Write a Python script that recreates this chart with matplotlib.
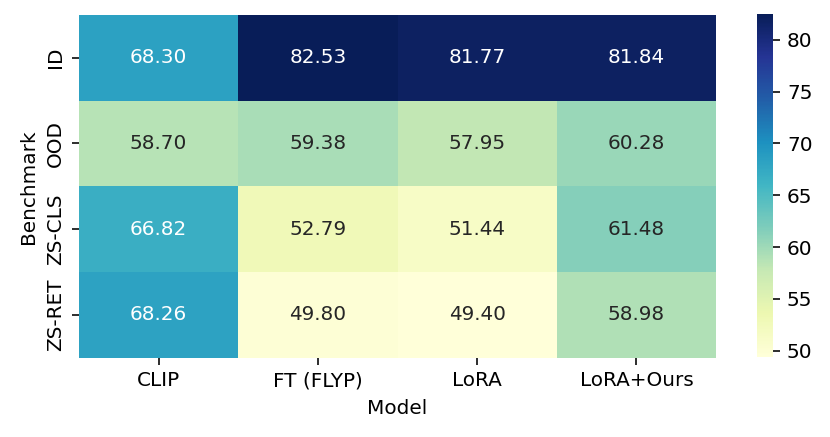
import numpy as np
import pandas as pd
import matplotlib
matplotlib.use("Agg")
import matplotlib.pyplot as plt
import seaborn as sns

models = ["CLIP", "FT (FLYP)", "LoRA", "LoRA+Ours"]
benchmarks = ["ID", "OOD", "ZS-CLS", "ZS-RET"]
scores = [
    [68.30, 82.53, 81.77, 81.84],
    [58.70, 59.38, 57.95, 60.28],
    [66.82, 52.79, 51.44, 61.48],
    [68.26, 49.80, 49.40, 58.98],
]

df = pd.DataFrame(scores, index=benchmarks, columns=models)

W, H = 830, 437
fig = plt.figure(figsize=(W / 144, H / 144), dpi=144)
ax = fig.add_axes([79 / W, 1 - 357.5 / H, (716 - 79) / W, (357.5 - 15) / H])
cax = fig.add_axes([756.5 / W, 1 - 357 / H, (773 - 756.5) / W, (357 - 13.5) / H])

sns.heatmap(df, annot=True, fmt=".2f", cmap="YlGnBu", ax=ax, cbar_ax=cax,
            annot_kws={"fontsize": 10})
ax.set_xlabel("Model", fontsize=10)
ax.set_ylabel("Benchmark", fontsize=10)
ax.tick_params(axis="both", labelsize=10)
ax.set_yticklabels(benchmarks, rotation=90, va="center")
cax.tick_params(labelsize=10)

fig.savefig("out.png", dpi=144)
